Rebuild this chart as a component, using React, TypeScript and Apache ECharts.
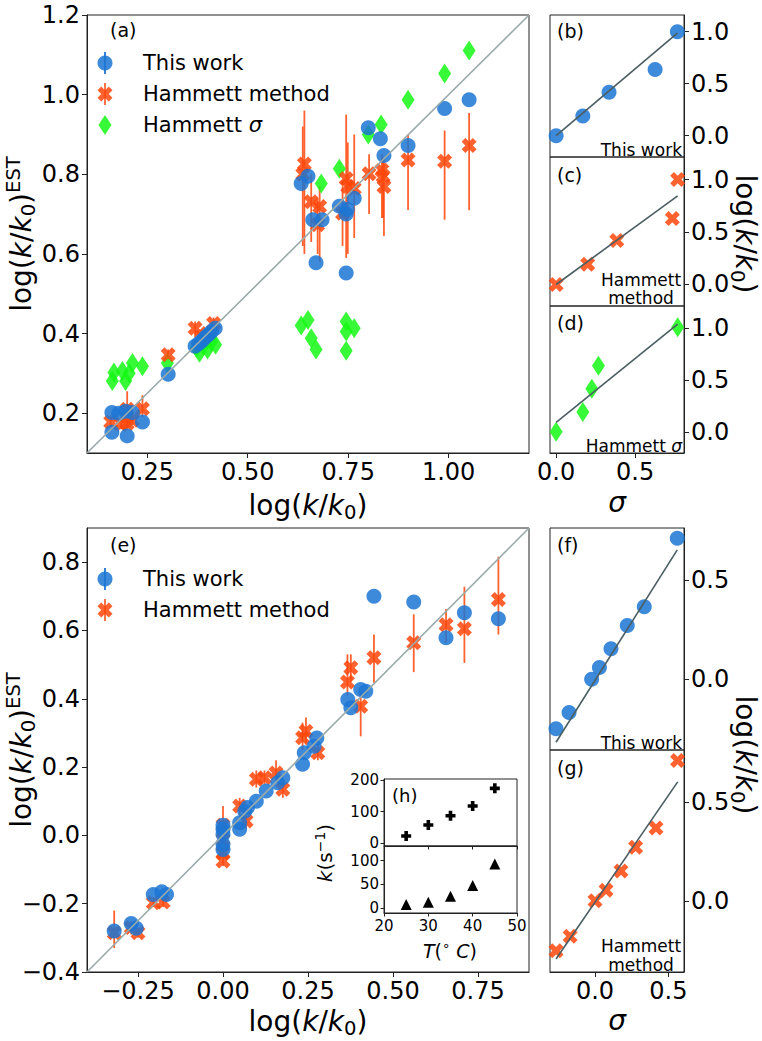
import React, { useEffect, useRef } from 'react';
import * as echarts from 'echarts';

const FONT = 'DejaVu Sans';

// ---------- Panel (a) ----------
const aThisWork = [
  [0.162, 0.152], [0.162, 0.202], [0.179, 0.2], [0.196, 0.205], [0.2, 0.143], [0.213, 0.202], [0.238, 0.178],
  [0.302, 0.298], [0.369, 0.368], [0.378, 0.375], [0.386, 0.382], [0.394, 0.39], [0.402, 0.397], [0.41, 0.405],
  [0.419, 0.413], [0.633, 0.777], [0.65, 0.795], [0.662, 0.686], [0.685, 0.686], [0.67, 0.578], [0.728, 0.72],
  [0.745, 0.7], [0.748, 0.712], [0.765, 0.74], [0.745, 0.552], [0.8, 0.917], [0.83, 0.889], [0.839, 0.847],
  [0.899, 0.872], [0.99, 0.965], [1.051, 0.987],
];
// [x, y, low, high]
const aHammettMethod = [
  [0.159, 0.178, 0.165, 0.195], [0.185, 0.172, 0.16, 0.19], [0.2, 0.174, 0.16, 0.19], [0.2, 0.21, 0.19, 0.255],
  [0.213, 0.182, 0.17, 0.2], [0.238, 0.211, 0.19, 0.245], [0.302, 0.347, 0.335, 0.36], [0.369, 0.413, 0.39, 0.43],
  [0.385, 0.39, 0.36, 0.41], [0.4, 0.4, 0.37, 0.42], [0.415, 0.425, 0.4, 0.44],
  [0.637, 0.8, 0.62, 0.92], [0.641, 0.826, 0.6, 0.96], [0.658, 0.731, 0.63, 0.8], [0.679, 0.719, 0.58, 0.77],
  [0.674, 0.673, 0.6, 0.74], [0.736, 0.702, 0.62, 0.77], [0.745, 0.789, 0.59, 0.95], [0.749, 0.769, 0.6, 0.88],
  [0.765, 0.764, 0.64, 0.9], [0.802, 0.801, 0.7, 0.85], [0.834, 0.81, 0.69, 0.85], [0.837, 0.795, 0.69, 0.84],
  [0.839, 0.769, 0.645, 0.84], [0.899, 0.836, 0.71, 0.9], [0.99, 0.833, 0.686, 0.91], [1.051, 0.872, 0.71, 0.954],
];
const aHammettSigma = [
  [0.163, 0.281], [0.167, 0.302], [0.188, 0.306], [0.196, 0.281], [0.205, 0.3], [0.213, 0.326], [0.238, 0.318],
  [0.3, 0.326], [0.372, 0.365], [0.38, 0.352], [0.39, 0.37], [0.4, 0.36], [0.41, 0.38], [0.42, 0.372],
  [0.633, 0.42], [0.65, 0.434], [0.658, 0.388], [0.67, 0.36], [0.745, 0.43], [0.745, 0.405], [0.765, 0.413],
  [0.745, 0.357], [0.683, 0.777], [0.728, 0.814], [0.8, 0.9], [0.832, 0.925], [0.899, 0.987], [0.99, 1.053],
  [1.051, 1.111],
];
const aDiagonal = [[0.1, 0.1], [1.2, 1.2]];
const aXTicks = [0.25, 0.5, 0.75, 1.0];
const aYTicks = [0.2, 0.4, 0.6, 0.8, 1.0, 1.2];

// ---------- Panels (b) (c) (d) ----------
const bSigma = [0, 0.169, 0.335, 0.627, 0.768];
const bLogK = [0, 0.19, 0.418, 0.635, 1.0];
const bFit = [[0, 0], [0.768, 0.985]];
const cSigma = [0, 0.2, 0.384, 0.736, 0.77];
const cLogK = [0, 0.193, 0.419, 0.629, 1.0];
const cFit = [[0, 0], [0.77, 0.845]];
const dSigma = [0, 0.169, 0.226, 0.268, 0.77];
const dLogK = [0, 0.19, 0.415, 0.639, 1.01];
const dFit = [[0, 0.09], [0.77, 1.04]];
const bdXTicks = [0, 0.5];
const bdYTicks = [0, 0.5, 1.0];

// ---------- Panel (e) ----------
const eThisWork = [
  [-0.32, -0.28], [-0.27, -0.258], [-0.255, -0.272], [-0.205, -0.173], [-0.18, -0.165], [-0.166, -0.173],
  [0, 0.03], [0, 0.018], [0, 0.003], [0, -0.026], [0, -0.041], [0.049, 0.018], [0.049, 0.037], [0.064, 0.071],
  [0.072, 0.082], [0.098, 0.1], [0.127, 0.13], [0.161, 0.154], [0.176, 0.169], [0.234, 0.208], [0.239, 0.242],
  [0.268, 0.261], [0.276, 0.285], [0.367, 0.398], [0.376, 0.374], [0.405, 0.427], [0.42, 0.422],
  [0.444, 0.7], [0.561, 0.683], [0.656, 0.579], [0.71, 0.652], [0.81, 0.634],
];
const eHammettMethod = [
  [-0.32, -0.285, -0.33, -0.22], [-0.27, -0.27, -0.29, -0.25], [-0.25, -0.285, -0.3, -0.27],
  [-0.205, -0.197, -0.21, -0.18], [-0.176, -0.195, -0.21, -0.18], [0, 0.03, -0.02, 0.086],
  [0, -0.012, -0.03, 0.01], [0, -0.051, -0.06, -0.03], [0, -0.075, -0.09, -0.06], [0.049, 0.086, 0.06, 0.11],
  [0.068, 0.042, 0.02, 0.06], [0.098, 0.164, 0.14, 0.19], [0.122, 0.169, 0.15, 0.19], [0.156, 0.183, 0.16, 0.22],
  [0.176, 0.135, 0.11, 0.16], [0.234, 0.286, 0.25, 0.33], [0.244, 0.305, 0.27, 0.345], [0.279, 0.242, 0.22, 0.27],
  [0.366, 0.449, 0.41, 0.53], [0.376, 0.491, 0.45, 0.53], [0.405, 0.378, 0.29, 0.418], [0.444, 0.52, 0.447, 0.588],
  [0.561, 0.564, 0.478, 0.647], [0.656, 0.617, 0.564, 0.663], [0.71, 0.605, 0.505, 0.728], [0.81, 0.691, 0.588, 0.816],
];
const eDiagonal = [[-0.4, -0.4], [0.9, 0.9]];
const eXTicks = [-0.25, 0, 0.25, 0.5, 0.75];
const eYTicks = [-0.4, -0.2, 0, 0.2, 0.4, 0.6, 0.8];

// ---------- Panels (f) (g) ----------
const fSigma = [-0.266, -0.177, -0.023, 0.03, 0.109, 0.22, 0.336, 0.561];
const fLogK = [-0.248, -0.167, 0.0, 0.059, 0.153, 0.27, 0.365, 0.709];
const fFit = [[-0.266, -0.316], [0.561, 0.65]];
const gSigma = [-0.266, -0.17, 0, 0.075, 0.177, 0.277, 0.416, 0.563];
const gLogK = [-0.248, -0.175, 0.003, 0.056, 0.152, 0.272, 0.368, 0.707];
const gFit = [[-0.266, -0.29], [0.564, 0.6]];
const fgXTicks = [0, 0.5];
const fgYTicks = [0, 0.5];

// ---------- Inset (h) ----------
const hT = [25, 30, 35, 40, 45];
const hKPlus = [23, 58, 87, 118, 173.5];
const hKTri = [7, 12, 24.5, 47.5, 93];
const hXTicks = [20, 30, 40, 50];
const hTopYTicks = [0, 100, 200];
const hBotYTicks = [0, 50, 100];

// ---------- styles ----------
const BLUE = 'rgb(28,118,212)';
const ORANGE = 'rgb(255,70,10)';
const GREEN = 'rgb(20,248,20)';
const OP = 0.85;
const FIT = '#4a5e62';
const DIAG = '#9aaaaa';
const FRAME = '#222';

const X_PATH = 'path://M0.25,0L0.5,0.25L0.75,0L1,0.25L0.75,0.5L1,0.75L0.75,1L0.5,0.75L0.25,1L0,0.75L0.25,0.5L0,0.25Z';
const DIAMOND_PATH = 'path://M0.5,0L1,0.5L0.5,1L0,0.5Z';
const PLUS_PATH = 'path://M0.32,0L0.68,0L0.68,0.32L1,0.32L1,0.68L0.68,0.68L0.68,1L0.32,1L0.32,0.68L0,0.68L0,0.32L0.32,0.32Z';

const fmt = (n: number) => (v: number) => (v < -1e-9 ? '\u2212' : '') + Math.abs(v).toFixed(n);

const zip = (a: number[], b: number[]) => a.map((v, i) => [v, b[i]]);

function axis(kind: 'x' | 'y', grid: number, min: number, max: number, ticks: number[] | null, labels: boolean,
  digits: number, opts: any = {}) {
  const fs = opts.fontSize ?? 24;
  return {
    type: 'value', gridIndex: grid, min, max,
    position: opts.position,
    axisLine: { show: !!ticks, onZero: false, lineStyle: { color: FRAME, width: 1 } },
    axisTick: {
      show: !!ticks, length: opts.tickLen ?? 5, lineStyle: { color: FRAME, width: 1 },
      customValues: ticks || [],
    },
    axisLabel: {
      show: labels && !!ticks, customValues: ticks || [], formatter: fmt(digits),
      fontSize: fs, fontFamily: FONT, color: '#000', margin: opts.margin ?? 7,
      lineHeight: kind === 'y' ? Math.round(fs * 0.75) : undefined,
    },
    splitLine: { show: false },
  };
}

function scatter(grid: number, data: number[][], symbol: string, size: any, color: string, opacity = OP) {
  return {
    type: 'scatter', xAxisIndex: grid, yAxisIndex: grid, data: data.map(d => [d[0], d[1]]),
    symbol, symbolSize: size, itemStyle: { color, opacity }, silent: true,
  };
}

function errBars(grid: number, data: number[][], color: string) {
  return {
    type: 'custom', xAxisIndex: grid, yAxisIndex: grid, silent: true,
    data: data.map(d => [d[0], d[2], d[3]]),
    encode: { x: 0, y: [1, 2] },
    renderItem: (_p: any, api: any) => {
      const a = api.coord([api.value(0), api.value(1)]);
      const b = api.coord([api.value(0), api.value(2)]);
      return {
        type: 'line', shape: { x1: a[0], y1: a[1], x2: b[0], y2: b[1] },
        style: { stroke: color, lineWidth: 1.8, opacity: OP },
      };
    },
  };
}

function line(grid: number, data: number[][], color: string, width = 1.6) {
  return {
    type: 'line', xAxisIndex: grid, yAxisIndex: grid, data, symbol: 'none', silent: true,
    lineStyle: { color, width }, z: 3,
  };
}

const rich = (size: number) => ({
  n: { fontSize: size, fontFamily: FONT, fill: '#000', lineHeight: size * 1.25 },
  i: { fontSize: size, fontFamily: FONT, fontStyle: 'italic', fill: '#000', lineHeight: size * 1.25 },
  s: { fontSize: size * 0.7, fontFamily: FONT, fill: '#000', lineHeight: size * 0.85, verticalAlign: 'bottom' },
  p: { fontSize: size * 0.7, fontFamily: FONT, fill: '#000', lineHeight: size * 0.5, verticalAlign: 'top' },
});

function rtext(text: string, x: number, y: number, size: number, rotation = 0, align = 'center') {
  return {
    type: 'text', x, y, rotation, silent: true,
    style: { text, rich: rich(size), align, verticalAlign: 'middle', fontFamily: FONT, fontSize: size },
  };
}

function ptext(text: string, x: number, y: number, size: number, align = 'left', lineHeight?: number) {
  return {
    type: 'text', x, y, silent: true,
    style: { text, fill: '#000', fontFamily: FONT, fontSize: size, align, verticalAlign: 'middle', lineHeight },
  };
}

const LOGK = '{n|log(}{i|k}{n|/}{i|k}{s|0}{n|)}';
const LOGK_EST = LOGK + '{p|EST}';

function xPolygon(cx: number, cy: number, s: number) {
  const pts = [[0.25, 0], [0.5, 0.25], [0.75, 0], [1, 0.25], [0.75, 0.5], [1, 0.75], [0.75, 1], [0.5, 0.75], [0.25, 1], [0, 0.75], [0.25, 0.5], [0, 0.25]];
  return pts.map(p => [cx + (p[0] - 0.5) * s, cy + (p[1] - 0.5) * s]);
}
function diamondPolygon(cx: number, cy: number, w: number, h: number) {
  return [[cx, cy - h / 2], [cx + w / 2, cy], [cx, cy + h / 2], [cx - w / 2, cy]];
}

function legendEntries(items: { kind: string; y: number; label: string }[]) {
  const out: any[] = [];
  items.forEach(it => {
    if (it.kind === 'blue') {
      out.push({ type: 'line', shape: { x1: 105, y1: it.y - 11, x2: 105, y2: it.y + 11 }, style: { stroke: BLUE, lineWidth: 1.8 } });
      out.push({ type: 'circle', shape: { cx: 105, cy: it.y, r: 7.5 }, style: { fill: BLUE, opacity: OP } });
    } else if (it.kind === 'orange') {
      out.push({ type: 'line', shape: { x1: 105, y1: it.y - 11, x2: 105, y2: it.y + 11 }, style: { stroke: ORANGE, lineWidth: 1.8, opacity: OP } });
      out.push({ type: 'polygon', shape: { points: xPolygon(105, it.y, 15) }, style: { fill: ORANGE, opacity: OP } });
    } else {
      out.push({ type: 'polygon', shape: { points: diamondPolygon(105, it.y, 13, 20) }, style: { fill: GREEN, opacity: OP } });
    }
    out.push(rtext(it.label, 143, it.y, 21, 0, 'left'));
  });
  return out;
}

function buildOption(): any {
  const gridBase = { show: true, borderColor: FRAME, borderWidth: 1, containLabel: false };
  const grid = [
    { ...gridBase, left: 87, top: 15, width: 442, height: 438 },
    { ...gridBase, left: 550, top: 15, width: 134, height: 142 },
    { ...gridBase, left: 550, top: 157, width: 134, height: 149 },
    { ...gridBase, left: 550, top: 306, width: 134, height: 147 },
    { ...gridBase, left: 87, top: 528, width: 442, height: 444 },
    { ...gridBase, left: 550, top: 528, width: 134, height: 222 },
    { ...gridBase, left: 550, top: 750, width: 134, height: 222 },
    { ...gridBase, left: 384, top: 779, width: 133, height: 67, backgroundColor: '#fff' },
    { ...gridBase, left: 384, top: 846, width: 133, height: 67, backgroundColor: '#fff' },
  ];
  const inset = { fontSize: 15, tickLen: 3.5, margin: 5 };
  const xAxis = [
    axis('x', 0, 0.1, 1.2, aXTicks, true, 2),
    axis('x', 1, -0.039, 0.81, null, false, 1),
    axis('x', 2, -0.039, 0.81, null, false, 1),
    axis('x', 3, -0.039, 0.81, bdXTicks, true, 1),
    axis('x', 4, -0.4, 0.9, eXTicks, true, 2),
    axis('x', 5, -0.307, 0.607, null, false, 1),
    axis('x', 6, -0.307, 0.607, fgXTicks, true, 1),
    axis('x', 7, 20, 50, hXTicks, false, 0, inset),
    axis('x', 8, 20, 50, hXTicks, true, 0, inset),
  ];
  const yAxis = [
    axis('y', 0, 0.1, 1.2, aYTicks, true, 1),
    axis('y', 1, -0.205, 1.16, bdYTicks, true, 1, { position: 'right' }),
    axis('y', 2, -0.205, 1.215, bdYTicks, true, 1, { position: 'right' }),
    axis('y', 3, -0.205, 1.215, bdYTicks, true, 1, { position: 'right' }),
    axis('y', 4, -0.4, 0.9, eYTicks, true, 1),
    axis('y', 5, -0.355, 0.76, fgYTicks, true, 1, { position: 'right' }),
    axis('y', 6, -0.355, 0.76, fgYTicks, true, 1, { position: 'right' }),
    axis('y', 7, -8.5, 203, hTopYTicks, true, 0, inset),
    axis('y', 8, -11, 131, hBotYTicks, true, 0, inset),
  ];

  const series: any[] = [
    // (a)
    line(0, aDiagonal, DIAG),
    scatter(0, aHammettSigma, DIAMOND_PATH, [13, 20], GREEN),
    errBars(0, aHammettMethod, ORANGE),
    scatter(0, aHammettMethod, X_PATH, 15, ORANGE),
    scatter(0, aThisWork, 'circle', 15, BLUE),
    // (b)(c)(d)
    scatter(1, zip(bSigma, bLogK), 'circle', 15, BLUE),
    line(1, bFit, FIT),
    scatter(2, zip(cSigma, cLogK), X_PATH, 15, ORANGE),
    line(2, cFit, FIT),
    scatter(3, zip(dSigma, dLogK), DIAMOND_PATH, [13, 20], GREEN),
    line(3, dFit, FIT),
    // (e)
    line(4, eDiagonal, DIAG),
    errBars(4, eHammettMethod, ORANGE),
    scatter(4, eHammettMethod, X_PATH, 15, ORANGE),
    scatter(4, eThisWork, 'circle', 15, BLUE),
    // (f)(g)
    scatter(5, zip(fSigma, fLogK), 'circle', 15, BLUE),
    line(5, fFit, FIT),
    scatter(6, zip(gSigma, gLogK), X_PATH, 15, ORANGE),
    line(6, gFit, FIT),
    // (h)
    scatter(7, zip(hT, hKPlus), PLUS_PATH, 10, '#000', 1),
    scatter(8, zip(hT, hKTri), 'triangle', 11, '#000', 1),
  ];

  const graphic: any[] = [
    // axis names
    rtext(LOGK, 308, 505, 28),
    rtext(LOGK_EST, 21, 234, 28, Math.PI / 2),
    rtext('{i|σ}', 617, 502, 28),
    rtext(LOGK, 745, 234, 28, -Math.PI / 2),
    rtext(LOGK, 308, 1021, 28),
    rtext(LOGK_EST, 21, 750, 28, Math.PI / 2),
    rtext('{i|σ}', 617, 1020, 28),
    rtext(LOGK, 745, 755, 28, -Math.PI / 2),
    // inset labels
    rtext('{i|k}{n|(s}{p|\u22121}{n|)}', 325, 853, 20, Math.PI / 2),
    rtext('{i|T}{n|(}{p|\u2218}{n| }{i|C}{n|)}', 450, 951, 19),
    // panel letters
    ptext('(a)', 110, 30, 19),
    ptext('(b)', 557, 31, 19),
    ptext('(c)', 557, 175, 19),
    ptext('(d)', 557, 323, 19),
    ptext('(e)', 110, 545, 19),
    ptext('(f)', 557, 545, 19),
    ptext('(g)', 557, 768, 19),
    ptext('(h)', 392, 795, 18),
    // inner labels
    ptext('This work', 682, 150, 17, 'right'),
    ptext('Hammett\nmethod', 641, 289, 17, 'center', 18.5),
    rtext('{n|Hammett }{i|σ}', 682, 446, 17, 0, 'right'),
    ptext('This work', 682, 743, 17, 'right'),
    ptext('Hammett\nmethod', 641, 955, 17, 'center', 19),
    // legends
    ...legendEntries([
      { kind: 'blue', y: 63, label: '{n|This work}' },
      { kind: 'orange', y: 94, label: '{n|Hammett method}' },
      { kind: 'green', y: 125, label: '{n|Hammett }{i|σ}' },
      { kind: 'blue', y: 579, label: '{n|This work}' },
      { kind: 'orange', y: 610, label: '{n|Hammett method}' },
    ]),
  ];

  return { animation: false, backgroundColor: '#fff', grid, xAxis, yAxis, series, graphic };
}

export default function App() {
  const ref = useRef<HTMLDivElement>(null);
  useEffect(() => {
    document.body.style.margin = '0';
    const chart = echarts.init(ref.current!, null, { renderer: 'svg' });
    chart.setOption(buildOption());
    return () => chart.dispose();
  }, []);
  return <div ref={ref} style={{ width: 762, height: 1041 }} />;
}
